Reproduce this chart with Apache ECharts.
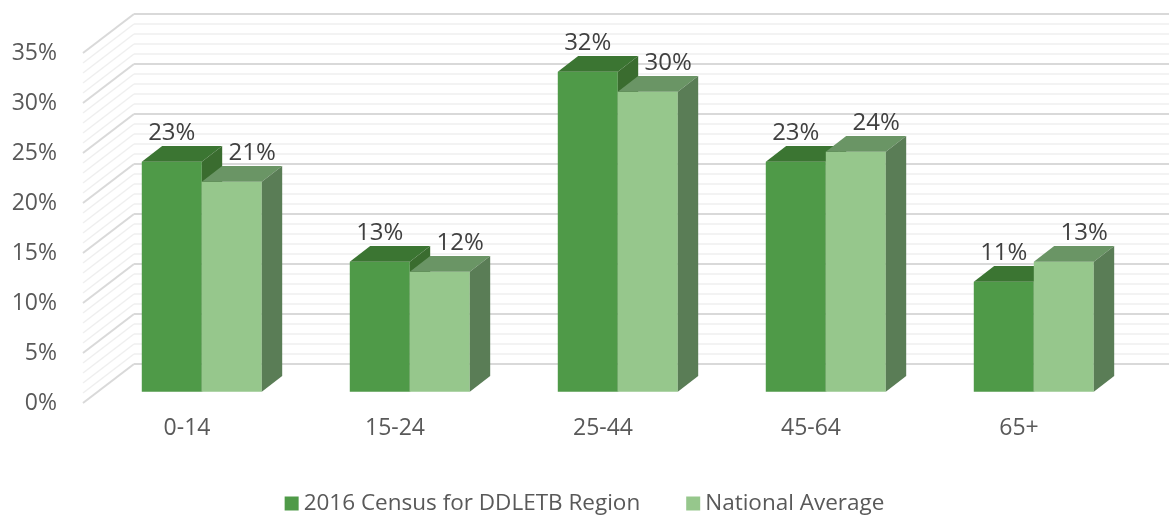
<!DOCTYPE html>
<html>
<head>
<meta charset="utf-8">
<script src="https://cdn.jsdelivr.net/npm/echarts@6/dist/echarts.min.js"></script>
<style>
  html,body{margin:0;padding:0;background:#fff;}
  #main{width:1169px;height:518px;}
</style>
</head>
<body>
<div id="main"></div>
<script>
// data
var categories = ['0-14', '15-24', '25-44', '45-64', '65+'];
var census = [23, 13, 32, 23, 11];
var national = [21, 12, 30, 24, 13];
var seriesNames = ['2016 Census for DDLETB Region', 'National Average'];
var yMax = 35;
var yStep = 5;

// 3d look
var DX = 51, DY = 39;          // depth of the whole plot box
var BAR_OFF = 0.29;            // where the bars start in depth
var BAR_DEPTH = 0.40;          // how deep a bar is
var BAR_FRAC = 0.2885;         // bar width / band width
var FONT = 'Open Sans';

var colors = [
  {front: '#4f9a48', top: '#3b7532', side: '#3a6c2f'},
  {front: '#96c78c', top: '#6a9565', side: '#5a7d56'}
];

var minorTicks = [];
for (var t = 0; t <= yMax; t++) minorTicks.push(t);

// back wall + side wall grid lines
function wallItem(params, api) {
  var v = api.value(0);
  var cs = params.coordSys;
  var p = api.coord([0, v]);
  var y = p[1];
  var x0 = cs.x;
  var major = v % yStep === 0;
  var style = {stroke: major ? '#d9d9d9' : '#efefef', lineWidth: major ? 2 : 1.5};
  return {
    type: 'group',
    children: [
      {type: 'line', shape: {x1: x0, y1: y, x2: x0 + DX, y2: y - DY}, style: style},
      {type: 'line', shape: {x1: x0 + DX, y1: y - DY, x2: cs.x + cs.width + DX + 10, y2: y - DY}, style: style}
    ]
  };
}

function barItem(idx) {
  return function (params, api) {
    var cat = api.value(0);
    var v = api.value(1);
    var base = api.coord([cat, 0]);
    var top = api.coord([cat, v]);
    var band = api.size([1, 0])[0];
    var w = band * BAR_FRAC;
    var ox = DX * BAR_OFF, oy = DY * BAR_OFF;
    var dx = DX * BAR_DEPTH, dy = DY * BAR_DEPTH;
    var x = base[0] - w + idx * w + ox;
    var ty = top[1] - oy;
    var by = base[1] - oy;
    var c = colors[idx];
    var lx = idx === 0 ? x + w / 2 : x + w / 2 + dx;
    return {
      type: 'group',
      children: [
        {type: 'rect', shape: {x: x, y: ty, width: w, height: by - ty}, style: {fill: c.front}},
        {type: 'polygon', shape: {points: [[x, ty], [x + w, ty], [x + w + dx, ty - dy], [x + dx, ty - dy]]}, style: {fill: c.top}},
        {type: 'polygon', shape: {points: [[x + w, ty], [x + w + dx, ty - dy], [x + w + dx, by - dy], [x + w, by]]}, style: {fill: c.side}},
        {type: 'text', z2: 100, x: lx, y: ty - dy - 13,
          style: {text: v + '%', fill: '#404040', font: '24px "' + FONT + '"', align: 'center', verticalAlign: 'middle'}}
      ]
    };
  };
}

var chart = echarts.init(document.getElementById('main'));
chart.setOption({
  animation: false,
  backgroundColor: '#fff',
  textStyle: {fontFamily: FONT},
  grid: {left: 83, right: 46, top: 53, bottom: 115},
  legend: {
    bottom: -2,
    left: 'center',
    icon: 'rect',
    itemWidth: 14,
    itemHeight: 14,
    itemGap: 46,
    data: seriesNames,
    textStyle: {fontSize: 22.5, color: '#595959', fontFamily: FONT}
  },
  xAxis: {
    type: 'category',
    data: categories,
    axisLine: {show: false},
    axisTick: {show: false},
    axisLabel: {margin: 14, fontSize: 23, color: '#595959'}
  },
  yAxis: {
    type: 'value',
    min: 0,
    max: yMax,
    interval: yStep,
    axisLine: {show: false},
    axisTick: {show: false},
    splitLine: {show: false},
    axisLabel: {margin: 26, fontSize: 23, color: '#595959', formatter: '{value}%'}
  },
  series: [
    {
      type: 'custom',
      silent: true,
      renderItem: wallItem,
      data: minorTicks.map(function (t) { return [t]; }),
      encode: {y: 0},
      z: 1
    },
    {
      name: seriesNames[0],
      type: 'custom',
      renderItem: barItem(0),
      itemStyle: {color: colors[0].front},
      data: census.map(function (v, i) { return [i, v]; }),
      z: 2
    },
    {
      name: seriesNames[1],
      type: 'custom',
      renderItem: barItem(1),
      itemStyle: {color: colors[1].front},
      data: national.map(function (v, i) { return [i, v]; }),
      z: 3
    }
  ]
});
</script>
</body>
</html>
